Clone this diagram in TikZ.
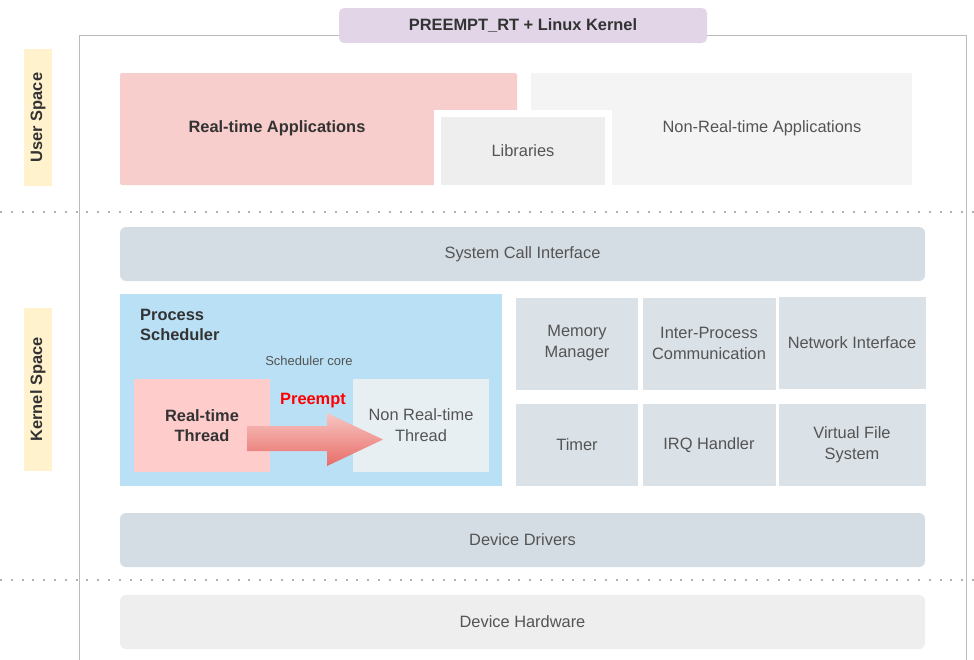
\documentclass[tikz,border=0pt]{standalone}
\usepackage{fontspec}
\setmainfont{Liberation Sans}
\begin{document}
\begin{tikzpicture}[x=1pt,y=-1pt,
  txt/.style={font=\fontsize{16.4}{21}\selectfont, text=black!67, align=center, inner sep=0},
  btxt/.style={font=\fontsize{16.4}{20}\selectfont\bfseries, text=black!80, align=center, inner sep=0},
  blk/.style={inner sep=0, outer sep=0},
  dotline/.style={draw=black!30, line width=2pt, dash pattern=on 2pt off 8.8pt}
]
\definecolor{titlec}{HTML}{E1D5E7}
\definecolor{yel}{HTML}{FFF2CC}
\definecolor{pinkc}{HTML}{F8CECC}
\definecolor{libc}{HTML}{EEEEEE}
\definecolor{nrtc}{HTML}{F4F4F4}
\definecolor{slate}{HTML}{D5DDE4}
\definecolor{schedc}{HTML}{B9E0F5}
\definecolor{rtc}{HTML}{FFCCCC}
\definecolor{nrtth}{HTML}{E8EFF3}
\definecolor{gridc}{HTML}{DAE1E7}
\definecolor{framec}{HTML}{BBBBBB}
\definecolor{arrtop}{HTML}{F8C6C2}
\definecolor{arrbot}{HTML}{E86C68}
\useasboundingbox (0,0) rectangle (974,659);
% outer frame
\draw[framec, line width=1pt] (79,700) -- (79,35) -- (966,35) -- (966,700);
% title
\node[blk, fill=titlec, rounded corners=5pt, minimum width=368, minimum height=35, btxt] (title) at (523,25.5) {PREEMPT\_RT + Linux Kernel};
% side labels
\node[blk, fill=yel, minimum width=28, minimum height=137] (us) at (38,117.5) {};
\node[btxt, rotate=90] at (us.center) {User Space};
\node[blk, fill=yel, minimum width=28, minimum height=163] (ks) at (38,389.5) {};
\node[btxt, rotate=90] at (ks.center) {Kernel Space};
% separators
\coordinate (s1a) at (0,212); \coordinate (s1b) at (974,212);
\coordinate (s2a) at (0,580); \coordinate (s2b) at (974,580);
\draw[dotline] (s1a) -- (s1b);
\draw[dotline] (s2a) -- (s2b);
% user space
\fill[pinkc, rounded corners=2pt] (120,73) rectangle (517,185);
\node[btxt] (rtapps) at (277,128.5) {Real-time Applications};
\fill[nrtc] (531,73) rectangle (912,185);
\node[txt] (nrtapps) at (762,128.5) {Non-Real-time Applications};
\draw[white, line width=7pt, fill=libc] (437.5,113.5) rectangle (608.5,188.5);
\node[txt] (libs) at (523,151) {Libraries};
% kernel
\node[blk, fill=slate, rounded corners=6pt, minimum width=805, minimum height=54, txt] (sci) at (522.5,254) {System Call Interface};
\node[blk, fill=schedc, minimum width=382, minimum height=192] (sched) at (311,390) {};
\node[btxt, anchor=north west, align=left] at (140,309) {Process\\Scheduler};
\node[font=\fontsize{13}{15}\selectfont, text=black!67, inner sep=0] at (309,360.5) {Scheduler core};
\node[blk, fill=rtc, minimum width=136, minimum height=93, btxt] (rt) at (202,425.5) {Real-time\\Thread};
\node[blk, fill=nrtth, minimum width=136, minimum height=93, txt] (nrt) at (421,425.5) {Non Real-time\\Thread};
\shade[top color=arrtop, bottom color=arrbot]
  (247,426) -- (327,426) -- (327,413) -- (383,439.5) -- (327,466) -- (327,451) -- (247,451) -- cycle;
\node[font=\fontsize{16.4}{20}\selectfont\bfseries, text=red, inner sep=0] (pre) at (313,400.5) {Preempt};
% grid
\node[blk, fill=gridc, minimum width=122, minimum height=92, txt] (mm) at (577,343.5) {Memory\\Manager};
\node[blk, fill=gridc, minimum width=133, minimum height=92, txt] (ipc) at (709,343.5) {Inter-Process\\Communication};
\node[blk, fill=gridc, minimum width=147, minimum height=92, txt] (net) at (852,343) {Network Interface};
\node[blk, fill=gridc, minimum width=122, minimum height=82, txt] (tim) at (577,445) {Timer};
\node[blk, fill=gridc, minimum width=133, minimum height=82, txt] (irq) at (709,445) {IRQ Handler};
\node[blk, fill=gridc, minimum width=147, minimum height=82, txt] (vfs) at (852,445) {Virtual File\\System};
% bottom
\node[blk, fill=slate, rounded corners=6pt, minimum width=805, minimum height=54, txt] (dd) at (522.5,540) {Device Drivers};
\node[blk, fill=libc, rounded corners=6pt, minimum width=805, minimum height=54, txt] (hw) at (522.5,622) {Device Hardware};
\end{tikzpicture}
\end{document}
